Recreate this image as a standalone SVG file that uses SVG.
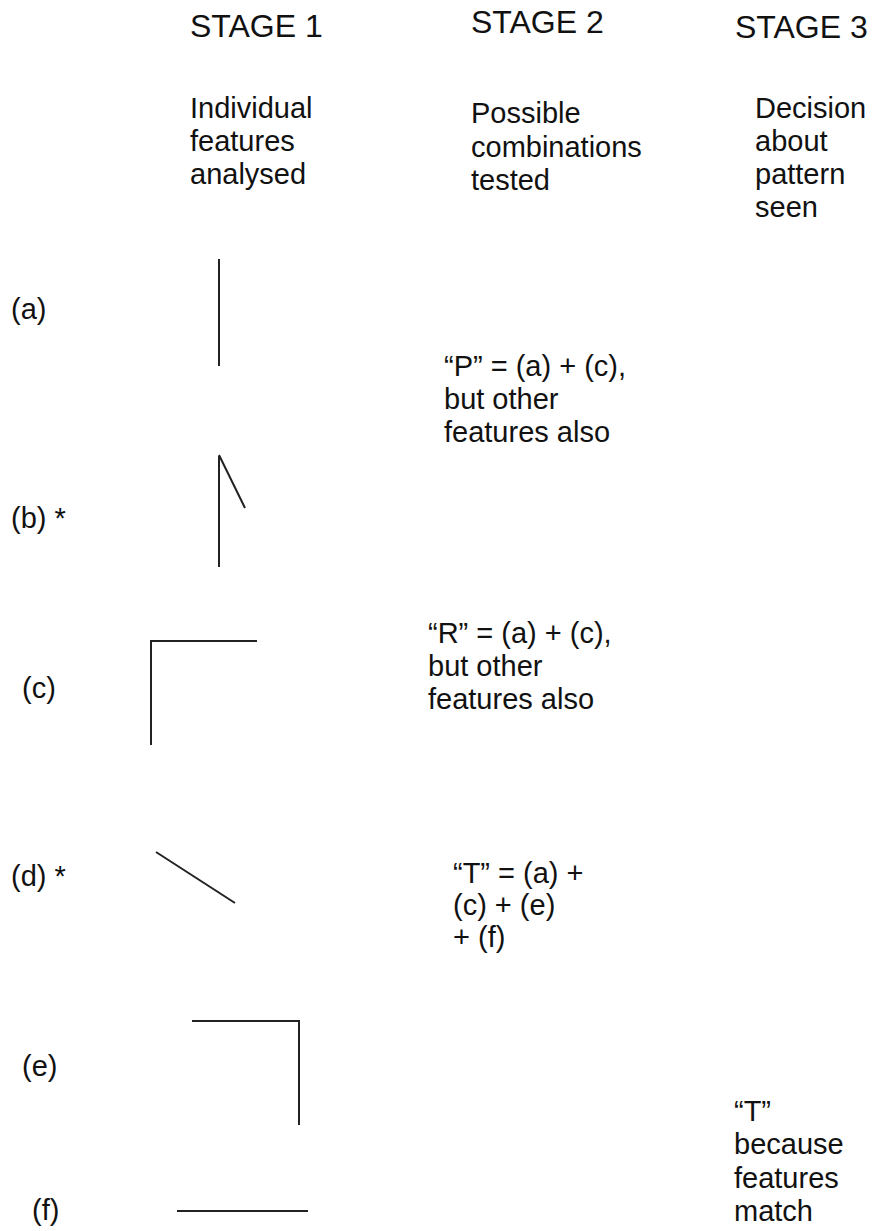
<svg xmlns="http://www.w3.org/2000/svg" width="877" height="1231" viewBox="0 0 877 1231">
<style>
text{font-family:"Liberation Sans",Arial,sans-serif;fill:#111;font-size:29px}
.h{font-size:32px}
.ln{stroke:#222;stroke-width:2;fill:none;stroke-linecap:butt}
</style>
<rect width="877" height="1231" fill="#fff"/>
<g id="stage1">
<text class="h" x="190" y="37">STAGE 1</text>
<text x="190" y="118">Individual</text>
<text x="190" y="151">features</text>
<text x="190" y="184">analysed</text>
</g>
<g id="stage2">
<text class="h" x="471" y="33">STAGE 2</text>
<text x="471" y="123">Possible</text>
<text x="471" y="157">combinations</text>
<text x="471" y="190">tested</text>
</g>
<g id="stage3">
<text class="h" x="735" y="38">STAGE 3</text>
<text x="755" y="118">Decision</text>
<text x="755" y="151">about</text>
<text x="755" y="184">pattern</text>
<text x="755" y="217">seen</text>
</g>
<g id="feature-a">
<text x="11" y="319">(a)</text>
<path class="ln" d="M219 259V366"/>
</g>
<g id="feature-b">
<text x="11" y="528">(b) *</text>
<path class="ln" d="M219 456V567M219 455L245 508"/>
</g>
<g id="feature-c">
<text x="22" y="698">(c)</text>
<path class="ln" d="M151 745V641H257"/>
</g>
<g id="feature-d">
<text x="11" y="886">(d) *</text>
<path class="ln" d="M156 852L235 903"/>
</g>
<g id="feature-e">
<text x="22" y="1076">(e)</text>
<path class="ln" d="M192 1021H299V1125"/>
</g>
<g id="feature-f">
<text x="32" y="1220">(f)</text>
<path class="ln" d="M177 1211H308"/>
</g>
<g id="combo-p">
<text x="444" y="376">“P” = (a) + (c),</text>
<text x="444" y="409">but other</text>
<text x="444" y="442">features also</text>
</g>
<g id="combo-r">
<text x="428" y="643">“R” = (a) + (c),</text>
<text x="428" y="676">but other</text>
<text x="428" y="709">features also</text>
</g>
<g id="combo-t">
<text x="453" y="883">“T” = (a) +</text>
<text x="453" y="915">(c) + (e)</text>
<text x="453" y="947">+ (f)</text>
</g>
<g id="decision">
<text x="734" y="1121">“T”</text>
<text x="734" y="1154">because</text>
<text x="734" y="1188">features</text>
<text x="734" y="1221">match</text>
</g>
<g id="connectors"></g>
</svg>
